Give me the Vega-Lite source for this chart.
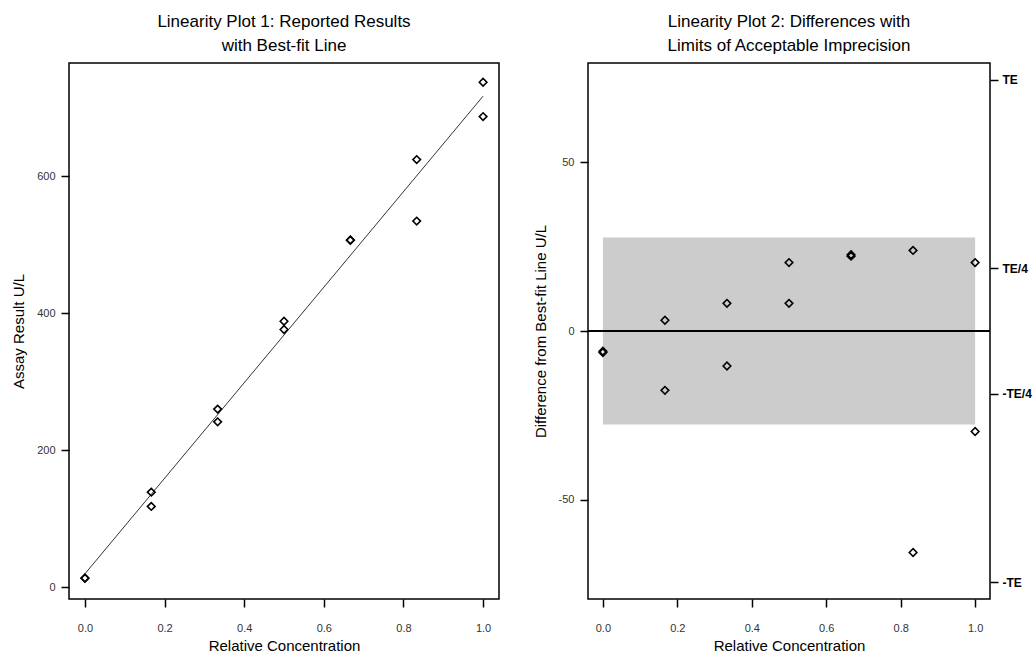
{
  "$schema": "https://vega.github.io/schema/vega-lite/v6.json",
  "background": "white",
  "padding": {"left": 10, "top": 12, "right": 0, "bottom": 0},
  "config": {
    "font": "Liberation Sans, sans-serif",
    "view": {"stroke": "black", "strokeWidth": 1.5},
    "axis": {"domain": false, "grid": false, "tickColor": "black", "tickSize": 8, "tickWidth": 1.5, "labelFontSize": 11, "labelColor": "#333", "labelPadding": 6, "titleFontSize": 15, "titleFontWeight": "normal", "titleColor": "black", "titlePadding": 10},
    "title": {"fontSize": 17, "fontWeight": "normal", "anchor": "middle", "lineHeight": 24, "offset": 8, "color": "black"},
    "concat": {"spacing": 32}
  },
  "datasets": {
    "pts": [
      {"conc": 0, "result": 12.8, "diff": -6.4},
      {"conc": 0, "result": 13.2, "diff": -6.0},
      {"conc": 0.1667, "result": 138.5, "diff": 3.2},
      {"conc": 0.1667, "result": 117.7, "diff": -17.6},
      {"conc": 0.3333, "result": 259.7, "diff": 8.2},
      {"conc": 0.3333, "result": 241.1, "diff": -10.4},
      {"conc": 0.5, "result": 388.0, "diff": 20.3},
      {"conc": 0.5, "result": 376.0, "diff": 8.2},
      {"conc": 0.6667, "result": 506.2, "diff": 22.2},
      {"conc": 0.6667, "result": 506.6, "diff": 22.6},
      {"conc": 0.8333, "result": 624.0, "diff": 23.9},
      {"conc": 0.8333, "result": 534.2, "diff": -65.7},
      {"conc": 1, "result": 736.9, "diff": 20.3},
      {"conc": 1, "result": 686.8, "diff": -29.8}
    ],
    "fit": [
      {"conc": 0, "fit": 19.2},
      {"conc": 1, "fit": 716.6}
    ],
    "limits": [
      {"x0": 0, "x1": 1, "lo": -27.7, "hi": 27.7, "zero": 0}
    ]
  },
  "hconcat": [
    {
      "width": 430,
      "height": 536,
      "title": {"text": ["Linearity Plot 1:  Reported Results", "with Best-fit Line"]},
      "layer": [
        {
          "data": {"name": "fit"},
          "mark": {"type": "line", "color": "#333", "strokeWidth": 1},
          "encoding": {
            "x": {"field": "conc", "type": "quantitative", "scale": {"domain": [-0.04, 1.04], "nice": false, "zero": false}, "axis": {"values": [0, 0.2, 0.4, 0.6, 0.8, 1], "format": ".1f", "title": "Relative Concentration", "labelPadding": 15, "titlePadding": 5}},
            "y": {"field": "fit", "type": "quantitative", "scale": {"domain": [-17.5, 765], "nice": false, "zero": false}, "axis": {"values": [0, 200, 400, 600], "title": "Assay Result U/L"}}
          }
        },
        {
          "data": {"name": "pts"},
          "mark": {"type": "point", "shape": "diamond", "filled": false, "color": "black", "size": 58, "strokeWidth": 1.6, "opacity": 1},
          "encoding": {
            "x": {"field": "conc", "type": "quantitative", "title": "Relative Concentration"},
            "y": {"field": "result", "type": "quantitative", "title": "Assay Result U/L"}
          }
        }
      ]
    },
    {
      "width": 402,
      "height": 536,
      "title": {"text": ["Linearity Plot 2: Differences with", "Limits of Acceptable Imprecision"]},
      "layer": [
        {
          "data": {"name": "limits"},
          "mark": {"type": "rect", "color": "#cccccc"},
          "encoding": {
            "x": {"field": "x0", "type": "quantitative", "scale": {"domain": [-0.04, 1.04], "nice": false, "zero": false}, "axis": {"values": [0, 0.2, 0.4, 0.6, 0.8, 1], "format": ".1f", "title": "Relative Concentration", "labelPadding": 15, "titlePadding": 5}},
            "x2": {"field": "x1"},
            "y": {"field": "lo", "type": "quantitative", "scale": {"domain": [-79.5, 79.5], "nice": false, "zero": false}, "axis": {"values": [-50, 0, 50], "labelExpr": "replace(datum.label, '\u2212', '-')", "title": "Difference from Best-fit Line U/L"}},
            "y2": {"field": "hi"}
          }
        },
        {
          "data": {"name": "limits"},
          "mark": {"type": "rule", "color": "black", "strokeWidth": 2},
          "encoding": {
            "y": {"field": "zero", "type": "quantitative", "scale": {"domain": [-79.5, 79.5], "nice": false, "zero": false}, "axis": {"orient": "right", "values": [-74.5, -18.6, 18.6, 74.5], "labelExpr": "datum.value > 50 ? 'TE' : datum.value > 0 ? 'TE/4' : datum.value > -50 ? '-TE/4' : '-TE'", "title": null, "labelFontSize": 12, "labelFontWeight": "bold", "labelColor": "black", "labelPadding": 4}}
          }
        },
        {
          "data": {"name": "pts"},
          "mark": {"type": "point", "shape": "diamond", "filled": false, "color": "black", "size": 58, "strokeWidth": 1.6, "opacity": 1},
          "encoding": {
            "x": {"field": "conc", "type": "quantitative", "title": "Relative Concentration"},
            "y": {"field": "diff", "type": "quantitative", "scale": {"domain": [-79.5, 79.5], "nice": false, "zero": false}, "axis": null}
          }
        }
      ],
      "resolve": {"scale": {"y": "independent"}}
    }
  ]
}
